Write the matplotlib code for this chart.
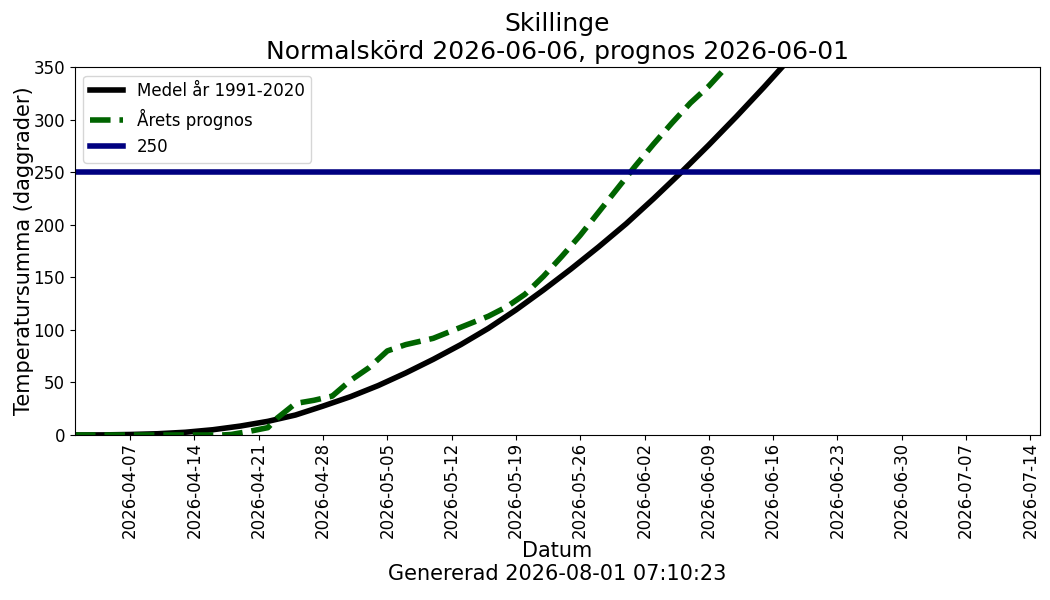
import matplotlib
matplotlib.use("Agg")
import matplotlib.pyplot as plt
import matplotlib.dates as mdates
import numpy as np
import pandas as pd

# Mean curve 1991-2020, one value every 3 days from 2026-04-01
mean_start = "2026-04-01"
mean_step_days = 3
mean_values = [0, 0.1, 0.5, 1.2, 2.6, 5, 8.5, 13, 19, 27.5,
               36.5, 47, 59, 72, 86, 101.5, 119, 138, 158, 179,
               201, 225, 250, 276, 303, 331, 360, 390, 421, 453,
               486, 520, 555, 591, 628, 666]

# Forecast for this year
fc_dates = ["2026-04-01", "2026-04-17", "2026-04-18", "2026-04-20", "2026-04-22",
            "2026-04-23", "2026-04-25", "2026-04-27", "2026-04-29", "2026-05-01",
            "2026-05-03", "2026-05-05", "2026-05-07", "2026-05-10", "2026-05-12",
            "2026-05-14", "2026-05-16", "2026-05-18", "2026-05-20", "2026-05-22",
            "2026-05-24", "2026-05-26", "2026-05-28", "2026-05-30", "2026-06-01",
            "2026-06-03", "2026-06-05", "2026-06-07", "2026-06-09", "2026-06-11",
            "2026-06-13"]
fc_values = [0, 0, 0.5, 3.5, 7,
             16, 30, 33, 37, 52,
             64, 80, 86, 92, 99,
             106, 113, 122, 134, 151,
             170, 190, 212, 234, 256,
             277, 297, 316, 332, 351,
             370]

threshold = 250
title_lines = ["Skillinge", "Normalskörd 2026-06-06, prognos 2026-06-01"]
tick_start, tick_end = "2026-04-07", "2026-07-14"
xlim = ("2026-04-01", "2026-07-15")
ylim = (0, 350)

fig = plt.figure(figsize=(10.5, 6), dpi=100)
ax = fig.add_axes([0.0714, 0.275, 0.9186, 0.613])

md = pd.date_range(mean_start, periods=len(mean_values), freq=f"{mean_step_days}D")
fd = pd.to_datetime(fc_dates)
ax.plot(md, mean_values, color="black", lw=4, label="Medel år 1991-2020")
ax.plot(fd, fc_values, color="darkgreen", lw=4, ls="--", label="Årets prognos")
ax.axhline(threshold, color="navy", lw=4, label=str(threshold))

ax.set_xlim(pd.to_datetime(xlim[0]), pd.to_datetime(xlim[1]))
ax.set_ylim(*ylim)
ticks = pd.date_range(tick_start, tick_end, freq="7D")
ax.set_xticks(ticks)
ax.xaxis.set_major_formatter(mdates.DateFormatter("%Y-%m-%d"))
ax.tick_params(axis="x", labelrotation=90, labelsize=12, pad=1.5)
ax.tick_params(axis="y", labelsize=12)
ax.set_yticks(np.arange(0, 351, 50))

ax.set_title("\n".join(title_lines), fontsize=18)
ax.set_ylabel("Temperatursumma (daggrader)", fontsize=15, labelpad=0)
ax.set_xlabel("Datum\nGenererad 2026-08-01 07:10:23", fontsize=15, labelpad=2)
ax.legend(loc="upper left", fontsize=12)

fig.savefig("out.png", dpi=100)
